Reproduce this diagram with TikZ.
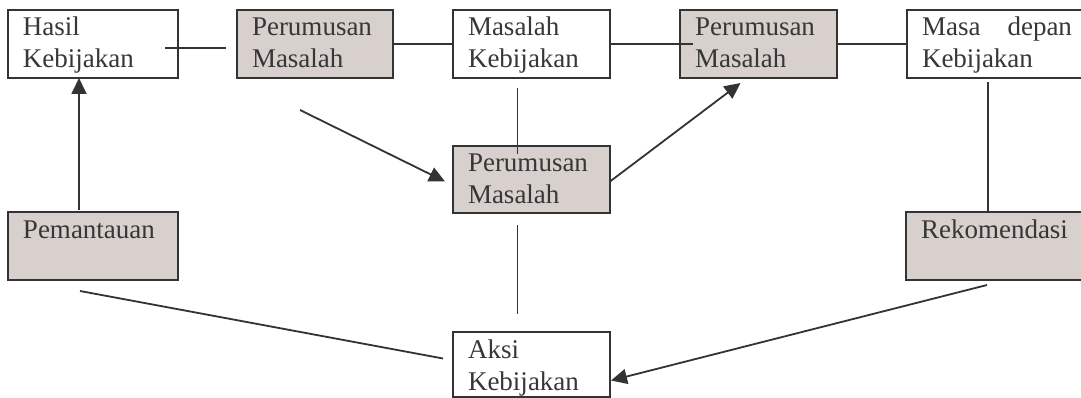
\documentclass[tikz,border=0pt]{standalone}
\usepackage{fontspec}
\setmainfont{Liberation Serif}
\usepackage{tikz}
\usetikzlibrary{arrows.meta}
\definecolor{garis}{RGB}{51,51,51}
\definecolor{isian}{RGB}{215,208,204}
\definecolor{teks}{RGB}{55,55,55}
\newcommand{\isi}[3]{\parbox[t][#2pt][t]{#1pt}{\rule{0pt}{26pt}#3}}

\begin{document}
\begin{tikzpicture}[x=1pt,y=-1pt]
		\tikzset{> = {Triangle[length=16pt,width=15pt]}}
		\tikzset{kotak/.style = {draw=garis, line width=2pt, anchor=north west, inner xsep=15pt, inner ysep=0pt, outer sep=0pt, text=teks, font=\fontsize{27}{32}\selectfont},
			abu/.style = {kotak, fill=isian},
			hubung/.style = {draw=garis, line width=1.8pt}}
		\useasboundingbox (0,0) rectangle (1081,398);
		\fill[white] (0,0) rectangle (1081,398);
		\clip (0,0) rectangle (1081,398);
		% baris atas
		\node[kotak] (hasil) at (8,10) {\isi{140}{68}{Hasil\\Kebijakan}};
		\node[abu] (rumA) at (237,10) {\isi{126}{68}{Perumusan\\Masalah}};
		\node[kotak] (masalah) at (453,10) {\isi{127}{68}{Masalah\\Kebijakan}};
		\node[abu] (rumB) at (680,10) {\isi{127}{68}{Perumusan\\Masalah}};
		\node[kotak] (masa) at (907,10) {\isi{150}{68}{Masa \hfill depan\\Kebijakan}};
		% tengah dan bawah
		\node[abu] (rumC) at (453,146) {\isi{127}{67}{Perumusan\\Masalah}};
		\node[abu] (pantau) at (8,212) {\isi{140}{68}{Pemantauan}};
		\node[abu] (rekom) at (906,212) {\isi{150}{68}{Rekomendasi}};
		\node[kotak] (aksi) at (453,332) {\isi{127}{65}{Aksi\\Kebijakan}};
		% garis
		\draw[hubung] ([xshift=-13pt,yshift=-4pt]hasil.east) -- ([xshift=-11pt,yshift=-4pt]rumA.west);
		\draw[hubung] (rumA.east) -- (masalah.west);
		\draw[hubung] (masalah.east) -- ([xshift=13pt]rumB.west);
		\draw[hubung] (rumB.east) -- (masa.west);
		\draw[hubung] ([xshift=-14pt,yshift=-10pt]masalah.south) -- ([xshift=-14pt,yshift=-8pt]rumC.north);
		\draw[hubung] ([xshift=-14pt,yshift=-12pt]rumC.south) -- ([xshift=-14pt,yshift=18pt]aksi.north);
		\draw[hubung] ([xshift=-9pt,yshift=-4pt]masa.south) -- ([xshift=-8pt]rekom.north);
		\draw[hubung] ([xshift=-13pt,yshift=-11pt]pantau.south) -- ([xshift=-10pt,yshift=6pt]aksi.west);
		% panah
		\draw[hubung,->] ([xshift=-14pt,yshift=2pt]pantau.north) -- ([xshift=-14pt]hasil.south);
		\draw[hubung,->] ([xshift=-15pt,yshift=-32pt]rumA.south) -- ([xshift=-8pt,yshift=-2pt]rumC.west);
		\draw[hubung,->] ([yshift=-2pt]rumC.east) -- ([xshift=-18pt,yshift=-5pt]rumB.south);
		\draw[hubung,->] ([xshift=-9pt,yshift=-5pt]rekom.south) -- ([xshift=1pt,yshift=-16pt]aksi.east);
	\end{tikzpicture}
\end{document}
